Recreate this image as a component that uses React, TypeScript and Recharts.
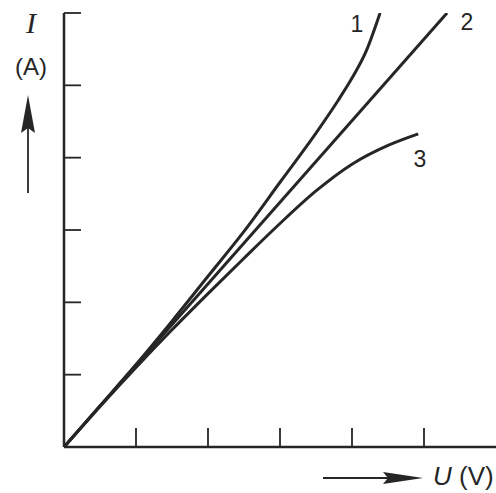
import React from 'react';
import { LineChart, Line, XAxis, YAxis } from 'recharts';

// Curve 1 (superlinear)
const curve1X = [0, 0.5, 1, 1.5, 2, 2.5, 3, 3.5, 3.8, 4, 4.2, 4.39];
const curve1Y = [0, 0.57, 1.14, 1.74, 2.36, 2.98, 3.66, 4.34, 4.78, 5.1, 5.48, 6.0];
// Curve 2 (ohmic, straight)
const curve2X = [0, 5.32];
const curve2Y = [0, 6.0];
// Curve 3 (sublinear)
const curve3X = [0, 0.5, 1, 1.5, 2, 2.5, 3, 3.5, 4, 4.5, 4.92];
const curve3Y = [0, 0.56, 1.1, 1.62, 2.12, 2.61, 3.09, 3.54, 3.91, 4.17, 4.33];

const xTicks = [1, 2, 3, 4, 5];
const yTicks = [1, 2, 3, 4, 5, 6];
const curveLabels = ['1', '2', '3'];

const toPoints = (xs: number[], ys: number[]) => xs.map((x, i) => ({ x, y: ys[i] }));

const data1 = toPoints(curve1X, curve1Y);
const data2 = toPoints(curve2X, curve2Y);
const data3 = toPoints(curve3X, curve3Y);

const INK = '#262626';

export default function App() {
  return (
    <div style={{ position: 'absolute', left: 0, top: 0, width: 496, height: 493, background: '#fff' }}>
      <LineChart width={496} height={493} margin={{ top: 13, right: 0, left: 0, bottom: 0 }}>
        <XAxis
          type="number"
          dataKey="x"
          domain={[0, 6]}
          ticks={xTicks}
          height={46}
          tickSize={-19}
          tickFormatter={() => ''}
          axisLine={{ stroke: INK, strokeWidth: 2.5 }}
          tickLine={{ stroke: INK, strokeWidth: 1.8 }}
          allowDataOverflow
        />
        <YAxis
          type="number"
          dataKey="y"
          domain={[0, 6]}
          ticks={yTicks}
          width={64}
          tickSize={-17}
          tickFormatter={() => ''}
          axisLine={{ stroke: INK, strokeWidth: 2.5 }}
          tickLine={{ stroke: INK, strokeWidth: 1.8 }}
          allowDataOverflow
        />
        <Line data={data1} dataKey="y" type="monotone" stroke={INK} strokeWidth={3} dot={false} isAnimationActive={false} />
        <Line data={data2} dataKey="y" type="linear" stroke={INK} strokeWidth={3} dot={false} isAnimationActive={false} />
        <Line data={data3} dataKey="y" type="monotone" stroke={INK} strokeWidth={3} dot={false} isAnimationActive={false} />
      </LineChart>
      <svg width={496} height={493} style={{ position: 'absolute', left: 0, top: 0, pointerEvents: 'none' }}>
        <text x={31} y={33} textAnchor="middle" fontFamily="Liberation Serif" fontStyle="italic" fontSize={30} fill={INK}>I</text>
        <text x={31} y={75} textAnchor="middle" fontFamily="Liberation Sans" fontSize={24} fill={INK}>(A)</text>
        <line x1={28} y1={193} x2={28} y2={125} stroke={INK} strokeWidth={1.8} />
        <polygon points="28,95 21,133 28,128 35,133" fill={INK} />
        <line x1={323} y1={478} x2={390} y2={478} stroke={INK} strokeWidth={1.8} />
        <polygon points="423,478 383,472 388,478 383,484" fill={INK} />
        <text x={433} y={485} fontFamily="Liberation Sans" fontSize={26} fill={INK}>
          <tspan fontStyle="italic">U</tspan> (V)
        </text>
        <text x={357} y={32} textAnchor="middle" fontFamily="Liberation Sans" fontSize={23} fill={INK}>{curveLabels[0]}</text>
        <text x={467} y={30} textAnchor="middle" fontFamily="Liberation Sans" fontSize={23} fill={INK}>{curveLabels[1]}</text>
        <text x={420} y={167} textAnchor="middle" fontFamily="Liberation Sans" fontSize={23} fill={INK}>{curveLabels[2]}</text>
      </svg>
    </div>
  );
}
